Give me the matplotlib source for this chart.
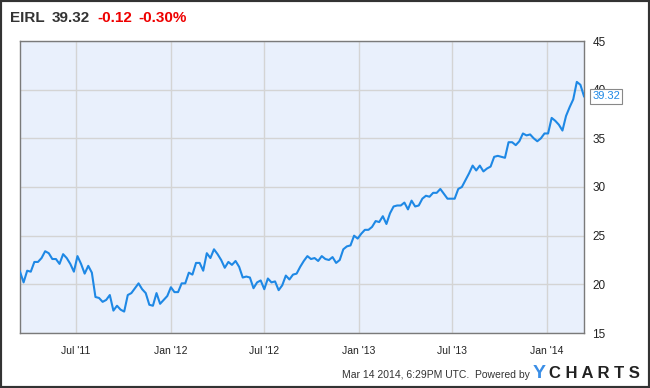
import numpy as np
import pandas as pd
import matplotlib
matplotlib.use("Agg")
import matplotlib.pyplot as plt
import matplotlib.dates as mdates
from matplotlib.patches import Rectangle

plt.rcParams["font.family"] = ["Liberation Sans", "DejaVu Sans"]

ticker = "EIRL"
last_price = 39.32
change = "-0.12"
change_pct = "-0.30%"
start_date = "2011-03-14"
end_date = "2014-03-14"

prices = [
    21.3, 20.2, 21.4, 21.3, 22.3, 22.3, 22.7, 23.4, 23.2, 22.6, 22.6, 22.1, 23.1, 22.7,
    22.1, 21.3, 22.9, 22.1, 21.1, 21.9, 21.2, 18.7, 18.6, 18.2, 18.4, 18.9, 17.3, 17.8,
    17.4, 17.2, 18.9, 19.1, 19.6, 20.1, 19.5, 19.1, 17.9, 17.8, 19.1, 18.0, 18.4, 18.8,
    19.7, 19.2, 19.2, 20.1, 20.1, 21.2, 21.0, 22.2, 22.2, 21.4, 23.2,
    22.7, 23.6, 23.1, 22.5, 21.7, 22.3, 22.0, 22.4, 21.8, 20.7, 20.8, 20.7, 19.6, 20.2,
    20.4, 19.5, 20.6, 20.2, 20.3, 19.4, 19.9, 20.9, 20.5, 21.0, 21.1, 21.8,
    22.4, 22.9, 22.6, 22.7, 22.4, 22.9, 22.6, 22.5, 22.8, 22.2, 22.5, 23.6, 23.9, 24.0,
    25.0, 24.7, 25.2, 25.6, 25.6, 25.9, 26.5, 26.4, 27.0, 26.2, 27.3,
    28.0, 28.1, 28.1, 28.4, 27.7, 28.6, 28.0, 28.1, 28.8, 29.1, 29.0, 29.4, 29.4, 29.8,
    29.3, 28.8, 28.8, 28.8, 29.8, 30.0, 30.7, 31.4, 32.2, 31.7, 32.2, 31.6,
    31.9, 32.1, 33.1, 33.2, 33.1, 33.0, 34.6, 34.6, 34.3, 34.7, 35.5, 35.3, 35.4, 35.0,
    34.7, 35.0, 35.5, 35.5, 37.1, 36.8, 36.4, 35.8, 37.3, 38.2, 39.0, 40.8, 40.5, 39.32,
]
dates = pd.date_range(start_date, end_date, periods=len(prices))

tick_dates = pd.to_datetime(["2011-07-01", "2012-01-01", "2012-07-01",
                             "2013-01-01", "2013-07-01", "2014-01-01"])
y_ticks = [15, 20, 25, 30, 35, 40, 45]

fig = plt.figure(figsize=(6.5, 3.88), dpi=100)
ax = fig.add_axes([20 / 650, 1 - 333 / 388, 564 / 650, 292 / 388])
ax.set_facecolor("#e9f0fc")
ax.plot(dates, prices, color="#1e88e5", lw=1.5, zorder=3)

ax.set_xlim(dates[0], dates[-1])
ax.set_ylim(15, 45)
ax.set_yticks(y_ticks)
ax.set_xticks(tick_dates)
ax.xaxis.set_major_formatter(mdates.DateFormatter("%b '%y"))
ax.yaxis.tick_right()
ax.tick_params(axis="y", length=0, pad=6, labelsize=8.5, colors="#222222")
ax.tick_params(axis="x", length=0, pad=9, labelsize=7.5, colors="#222222")
ax.grid(True, color="#d4d4d4", lw=1)
for s in ax.spines.values():
    s.set_color("#7a7a7a")
    s.set_linewidth(1)

# last-price callout; its box sits over the "40" label like the original
ax.annotate(f"{last_price:.2f}", xy=(dates[-1], last_price), xytext=(6, 0),
            textcoords="offset points", va="center", ha="left",
            fontsize=8, color="#1e88e5",
            bbox=dict(boxstyle="square,pad=0.2", fc="white", ec="#888888", lw=0.8),
            annotation_clip=False, zorder=5)

# header
fig.text(10 / 650, 1 - 18 / 388, ticker, fontsize=11, fontweight="bold",
         color="#333333", va="center")
fig.text(52 / 650, 1 - 18 / 388, f"{last_price:.2f}", fontsize=11, fontweight="bold",
         color="#333333", va="center")
fig.text(97 / 650, 1 - 18 / 388, change, fontsize=11, fontweight="bold",
         color="#ee0000", va="center")
fig.text(138 / 650, 1 - 18 / 388, change_pct, fontsize=11, fontweight="bold",
         color="#ee0000", va="center")

# footer
fig.text(530 / 650, 1 - 375 / 388, "Mar 14 2014, 6:29PM UTC.  Powered by",
         fontsize=7.5, color="#333333", ha="right", va="center")
fig.text(533 / 650, 1 - 374 / 388, "Y", fontsize=14, fontweight="heavy",
         color="#3a8ee6", ha="left", va="center")
fig.text(549 / 650, 1 - 374 / 388, "C H A R T S", fontsize=12, fontweight="heavy",
         color="#222222", ha="left", va="center")

# outer border
fig.patches.append(Rectangle((0, 0), 1, 1, transform=fig.transFigure, fill=False,
                             ec="#333333", lw=3))

fig.savefig("out.png", dpi=100)
